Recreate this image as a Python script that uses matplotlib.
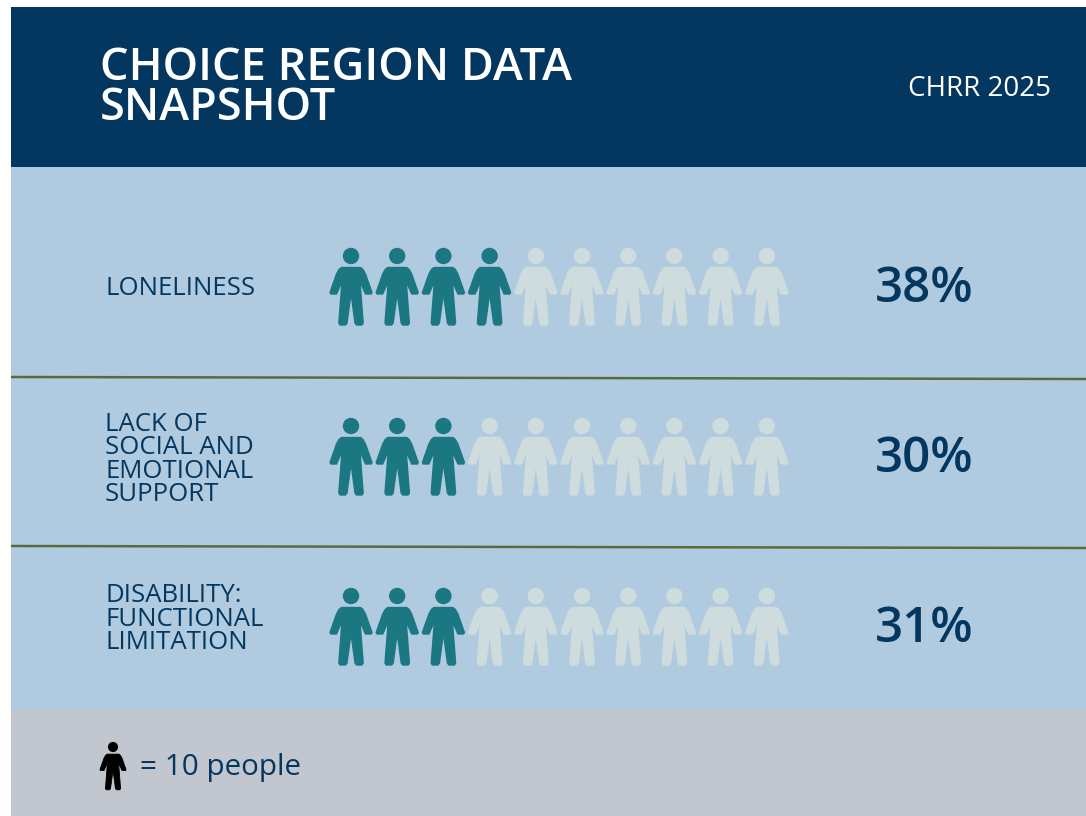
"""Choice region data snapshot, drawn as a pictogram panel."""

import matplotlib

matplotlib.use("Agg")

import matplotlib.pyplot as plt
from matplotlib.patches import Circle, PathPatch, Rectangle
from matplotlib.path import Path

TITLE_LINES = ["CHOICE REGION DATA", "SNAPSHOT"]
SOURCE = "CHRR 2025"
CATEGORIES = [
    ["LONELINESS"],
    ["LACK OF", "SOCIAL AND", "EMOTIONAL", "SUPPORT"],
    ["DISABILITY:", "FUNCTIONAL", "LIMITATION"],
]
PERCENT_LABELS = ["38%", "30%", "31%"]
FILLED_ICONS = [4, 3, 3]
TOTAL_ICONS = 10
LEGEND_TEXT = "= 10 people"

NAVY = "#04375f"
PANEL = "#b0cbdf"
FOOTER = "#c2c7cf"
TEAL = "#1b7883"
PALE = "#cfdcde"
RULE = "#5a6b3a"

WIDTH, HEIGHT = 1086, 816
ROW_TOP = [248, 418, 588]
LABEL_MID = [288.5, 459.5, 619]
FIRST_ICON_X = 351
ICON_STEP = 46.2

# half outline of the figure, from neck to crotch, offsets from the head centre
BODY_HALF = [
    (5, 11.5), (9.5, 11.5), (12, 13.5), (14.5, 18), (21, 36.5), (20.2, 38),
    (14.5, 38), (8.8, 25), (9.5, 32), (12.2, 67), (11, 69), (5.5, 69),
    (4, 67), (0.5, 41),
]


def draw_person(ax, cx, head_y, color, scale=1.0):
    right = [(cx + dx * scale, head_y + dy * scale) for dx, dy in BODY_HALF]
    left = [(2 * cx - x, y) for x, y in reversed(right)]
    verts = right + left + [right[0]]
    codes = [Path.MOVETO] + [Path.LINETO] * (len(verts) - 2) + [Path.CLOSEPOLY]
    ax.add_patch(PathPatch(Path(verts, codes), facecolor=color, edgecolor=color,
                           lw=1.0 * scale, joinstyle="round"))
    ax.add_patch(Circle((cx, head_y), 8.2 * scale, facecolor=color, edgecolor="none"))


plt.rcParams["font.family"] = ["Open Sans", "DejaVu Sans"]

fig = plt.figure(figsize=(WIDTH / 100, HEIGHT / 100), dpi=100, facecolor="white")
ax = fig.add_axes([0, 0, 1, 1])
ax.set_xlim(0, WIDTH)
ax.set_ylim(HEIGHT, 0)
ax.axis("off")

ax.add_patch(Rectangle((11, 7), WIDTH - 11, 160, facecolor=NAVY, edgecolor="none"))
ax.add_patch(Rectangle((11, 167), WIDTH - 11, 543, facecolor=PANEL, edgecolor="none"))
ax.add_patch(Rectangle((11, 710), WIDTH - 11, 106, facecolor=FOOTER, edgecolor="none"))

for i, line in enumerate(TITLE_LINES):
    ax.text(100, 68 + i * 40, line, color="white", fontsize=32.5, fontweight="semibold",
            va="center", ha="left")
ax.text(1051, 89, SOURCE, color="white", fontsize=20,
        va="center", ha="right")

for row, top in enumerate(ROW_TOP):
    head_y = top + 8
    for i in range(TOTAL_ICONS):
        color = TEAL if i < FILLED_ICONS[row] else PALE
        draw_person(ax, FIRST_ICON_X + i * ICON_STEP, head_y, color)

    lines = CATEGORIES[row]
    for j, line in enumerate(lines):
        ax.text(105, LABEL_MID[row] + (j - (len(lines) - 1) / 2) * 23.3, line, color=NAVY,
                fontsize=18.5, va="center", ha="left")
    ax.text(875, top + 42, PERCENT_LABELS[row], color=NAVY, fontsize=35.5,
            fontweight="semibold", va="center", ha="left")

ax.plot([11, WIDTH], [377, 379], color=RULE, lw=1.8, solid_capstyle="butt")
ax.plot([11, WIDTH], [546, 548], color=RULE, lw=1.8, solid_capstyle="butt")

draw_person(ax, 113, 747, "black", scale=0.62)
ax.text(140, 767, LEGEND_TEXT, color=NAVY, fontsize=21.3,
        va="center", ha="left")

fig.savefig("out.png", dpi=100)
plt.close(fig)
